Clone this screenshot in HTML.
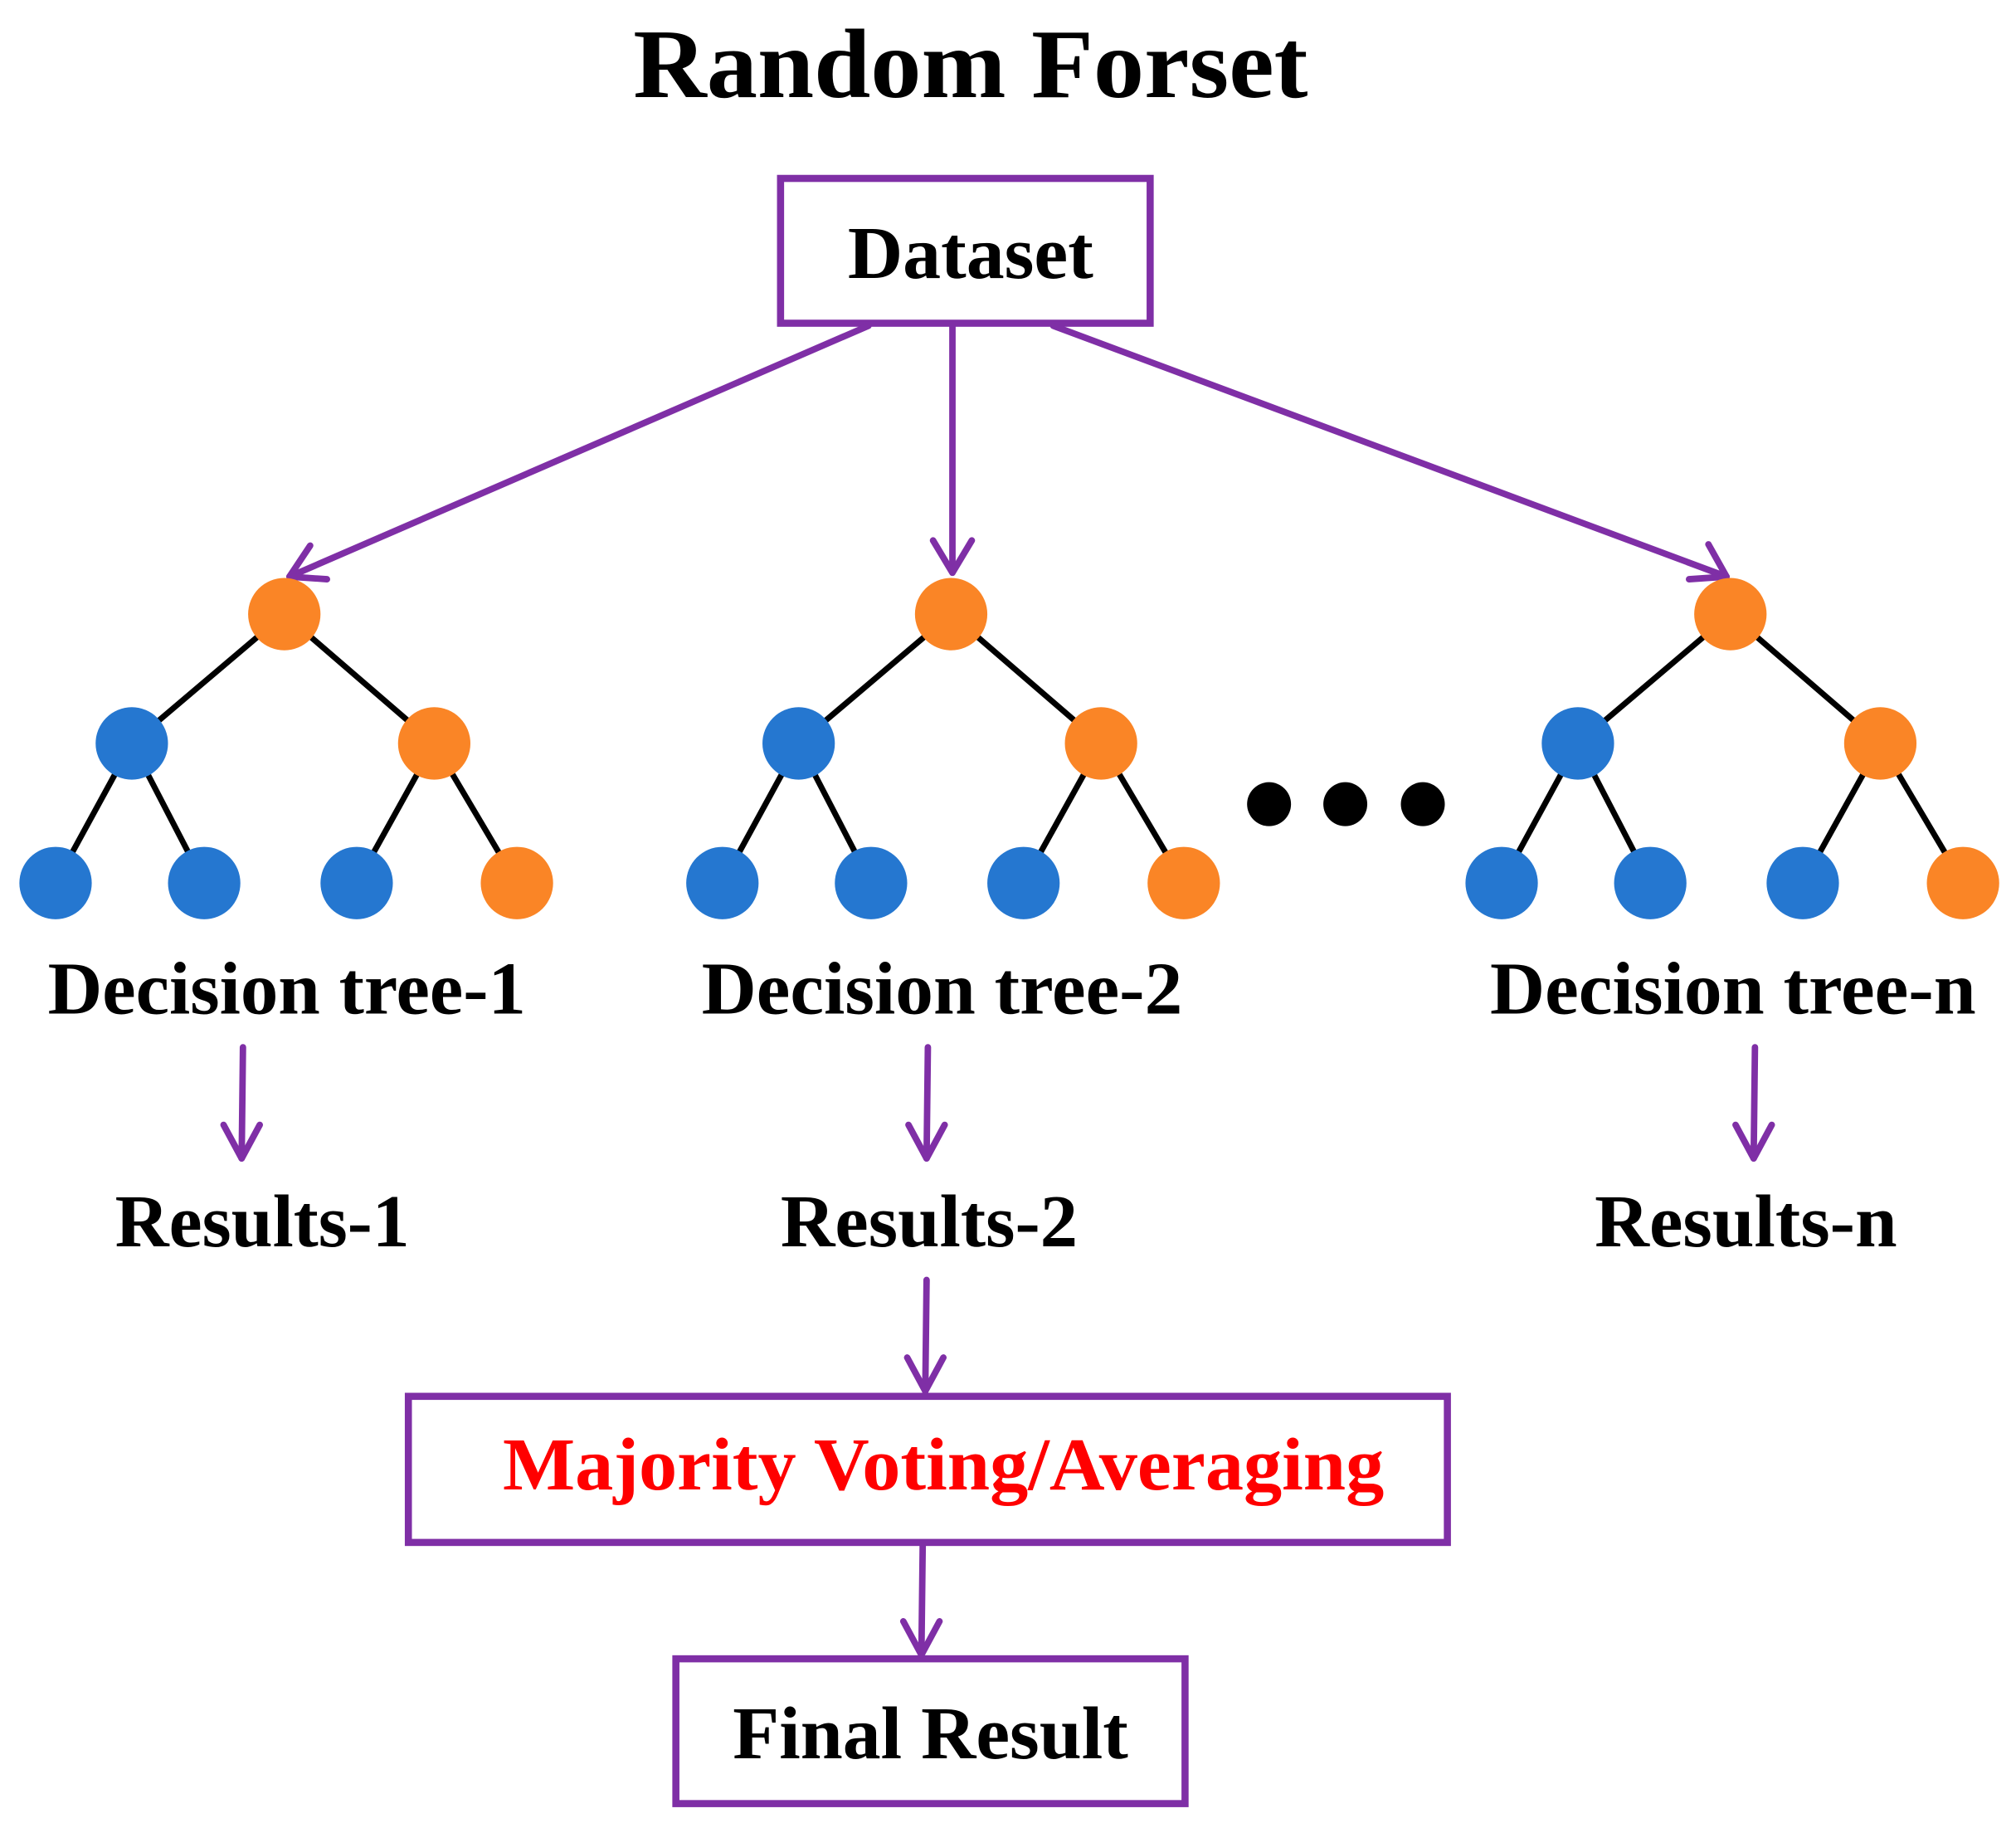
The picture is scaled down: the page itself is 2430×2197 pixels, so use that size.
<!DOCTYPE html>
<html><head><meta charset="utf-8"><style>html,body{margin:0;padding:0;background:#fff}svg{display:block}</style></head>
<body>
<svg width="2430" height="2197" viewBox="0 0 1560 1410" preserveAspectRatio="none" xmlns="http://www.w3.org/2000/svg">
<g font-family="Liberation Serif, serif" font-weight="bold" text-anchor="middle">
<text x="751" y="75" font-size="76" textLength="522" lengthAdjust="spacingAndGlyphs">Random Forset</text>
</g>
<g fill="none" stroke="#7F2FA6" stroke-width="5.5">
<rect x="604" y="138" width="286" height="112"/>
<rect x="316" y="1080" width="804" height="113"/>
<rect x="523" y="1283" width="394" height="112"/>
</g>
<g fill="none" stroke="#7F2FA6" stroke-width="5" stroke-linecap="round" stroke-linejoin="round">
<line x1="672" y1="252" x2="224" y2="446"/><polyline points="240,422 224,446 253,448"/>
<line x1="737" y1="252" x2="737" y2="443"/><polyline points="722,418 737,443 752,418"/>
<line x1="815" y1="252" x2="1336" y2="446"/><polyline points="1322,421 1336,446 1307,448"/>
<line x1="188" y1="810" x2="187" y2="896"/><polyline points="173,870 187,896 201,870"/>
<line x1="718" y1="810" x2="717" y2="896"/><polyline points="703,870 717,896 731,870"/>
<line x1="1358" y1="810" x2="1357" y2="896"/><polyline points="1343,870 1357,896 1371,870"/>
<line x1="717" y1="990" x2="716" y2="1076"/><polyline points="702,1050 716,1076 730,1050"/>
<line x1="714" y1="1195" x2="713" y2="1280"/><polyline points="699,1254 713,1280 727,1254"/>
</g>
<g stroke="#000" stroke-width="4.5">
<g id="t1">
<line x1="220" y1="475" x2="102" y2="575"/><line x1="220" y1="475" x2="336" y2="575"/>
<line x1="102" y1="575" x2="43" y2="683"/><line x1="102" y1="575" x2="158" y2="683"/>
<line x1="336" y1="575" x2="276" y2="683"/><line x1="336" y1="575" x2="400" y2="683"/>
</g>
<use href="#t1" x="516"/>
<use href="#t1" x="1119"/>
</g>
<g id="c1">
<circle cx="220" cy="475" r="28" fill="#FA8526"/>
<circle cx="102" cy="575" r="28" fill="#2577D0"/>
<circle cx="336" cy="575" r="28" fill="#FA8526"/>
<circle cx="43" cy="683" r="28" fill="#2577D0"/>
<circle cx="158" cy="683" r="28" fill="#2577D0"/>
<circle cx="276" cy="683" r="28" fill="#2577D0"/>
<circle cx="400" cy="683" r="28" fill="#FA8526"/>
</g>
<use href="#c1" x="516"/>
<use href="#c1" x="1119"/>
<circle cx="982" cy="622" r="17"/><circle cx="1041" cy="622" r="17"/><circle cx="1101" cy="622" r="17"/>
<g font-family="Liberation Serif, serif" font-weight="bold" text-anchor="middle" font-size="58">
<text x="751" y="215" textLength="190" lengthAdjust="spacingAndGlyphs">Dataset</text>
<text x="222" y="784" textLength="370" lengthAdjust="spacingAndGlyphs">Decision tree-1</text>
<text x="729" y="784" textLength="372" lengthAdjust="spacingAndGlyphs">Decision tree-2</text>
<text x="1341" y="784" textLength="376" lengthAdjust="spacingAndGlyphs">Decision tree-n</text>
<text x="203" y="964" textLength="228" lengthAdjust="spacingAndGlyphs">Results-1</text>
<text x="719" y="964" textLength="230" lengthAdjust="spacingAndGlyphs">Results-2</text>
<text x="1351" y="964" textLength="234" lengthAdjust="spacingAndGlyphs">Results-n</text>
<text x="730" y="1152" fill="#FF0000" textLength="682" lengthAdjust="spacingAndGlyphs">Majority Voting/Averaging</text>
<text x="720" y="1360" textLength="306" lengthAdjust="spacingAndGlyphs">Final Result</text>
</g>
</svg>
</body></html>
